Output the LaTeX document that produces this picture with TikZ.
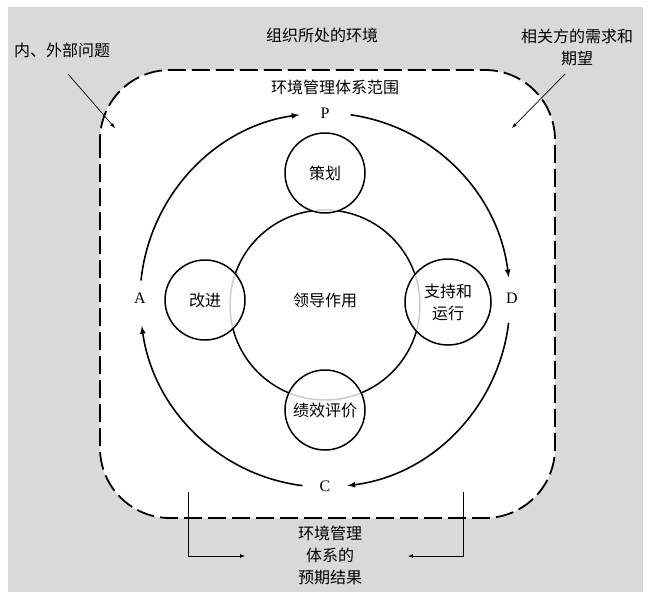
\documentclass[tikz,border=0pt]{standalone}
\usepackage{fontspec}
\setmainfont{Liberation Serif}
\newfontfamily\cjk{Noto Sans CJK SC}
\usetikzlibrary{arrows,positioning,calc}
\definecolor{bggray}{gray}{0.85}
\definecolor{ringgray}{gray}{0.8}
\begin{document}
\begin{tikzpicture}[x=1pt,y=-1pt,
  zh/.style={font=\cjk\fontsize{16}{22}\selectfont, align=center, inner sep=1pt},
  lt/.style={font=\fontsize{16}{18}\selectfont, inner sep=1pt},
  ring/.style={circle, draw, line width=1.5pt, fill=white},
  cyc/.style={line width=1.6pt, -latex},
  thin/.style={line width=0.7pt, -latex}]
\useasboundingbox (0,0) rectangle (650,600);
\fill[bggray] (8,7) rectangle (643,592);

% Scope of the system
\draw[line width=1.8pt, dash pattern=on 18pt off 6pt, fill=white, rounded corners=70pt] (100,70) rectangle (555,518);

% Leadership and the four stages
\draw[line width=1.5pt] (325,305) circle[radius=95];
\node[ring, minimum size=80pt] (plan) at (325,173) {};
\node[ring, minimum size=80pt] (improve) at (205,300) {};
\node[ring, minimum size=86pt] (support) at (448,302) {};
\node[ring, minimum size=80pt] (eval) at (325,410) {};
\begin{scope}
\clip (plan) circle[radius=39] (improve) circle[radius=39] (support) circle[radius=42] (eval) circle[radius=39];
\draw[ringgray, line width=1.5pt] (325,305) circle[radius=95];
\end{scope}
\node[zh] at (plan) {策划};
\node[zh] at (improve) {改进};
\node[zh] at (support) {支持和\\运行};
\node[zh] at (eval) {绩效评价};
\node[zh] (lead) at (325,300) {领导作用};

% PDCA
\node[lt] (P) at (325,113) {P};
\node[lt] (D) at (512,298) {D};
\node[lt] (C) at (325,486) {C};
\node[lt] (A) at (140,298) {A};
\coordinate (o) at (325,300);
\draw[cyc] ($(o)+(186:185 and 187)$) arc[start angle=186, end angle=262, x radius=185, y radius=187];
\draw[cyc] ($(o)+(278:185 and 187)$) arc[start angle=278, end angle=353, x radius=185, y radius=187];
\draw[cyc] ($(o)+(7:185 and 187)$) arc[start angle=7, end angle=83, x radius=185, y radius=187];
\draw[cyc] ($(o)+(97:185 and 187)$) arc[start angle=97, end angle=172, x radius=185, y radius=187];

% Labels
\node[zh] (env) at (322,35) {组织所处的环境};
\node[zh] (scope) at (335,87) {环境管理体系范围};
\node[zh] (issues) at (62,50) {内、外部问题};
\node[zh] (needs) at (577,47) {相关方的需求和\\期望};
\node[zh] (result) at (330,555) {环境管理\\体系的\\预期结果};
\coordinate (issueend) at (115,128);
\coordinate (needend) at (512,128);
\draw[thin] (68,74) -- (issueend);
\draw[thin] (565,74) -- (needend);

% Outcomes
\coordinate (lo) at (188,492);
\coordinate (ro) at (463,492);
\draw[thin] (lo) |- (245,556);
\draw[thin] (ro) |- (408,556);
\end{tikzpicture}
\end{document}
